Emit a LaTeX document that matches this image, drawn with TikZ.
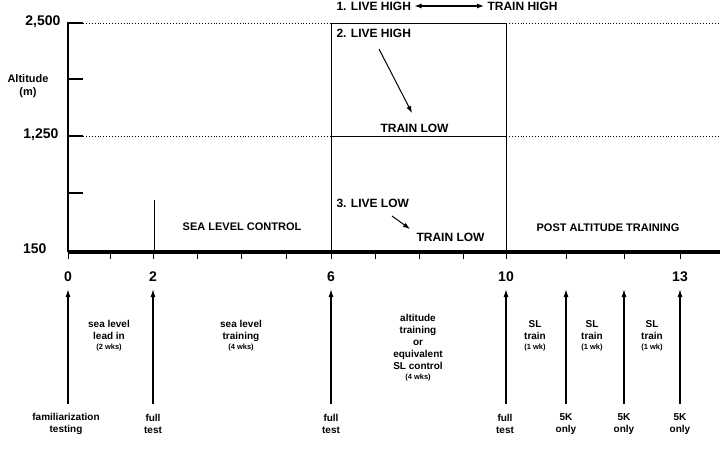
\documentclass[tikz,border=0pt]{standalone}
\usepackage{fontspec}
\setmainfont{Liberation Sans}
\usetikzlibrary{positioning,arrows.meta}
\newcommand{\wks}{\fontsize{7.5}{8}\selectfont}

\begin{document}
\begin{tikzpicture}[
    x=1pt, y=-1pt,
    big/.style={font=\bfseries\fontsize{14}{14}\selectfont},
    zone/.style={font=\bfseries\fontsize{11}{11}\selectfont},
    phase/.style={font=\bfseries\fontsize{12}{12}\selectfont, anchor=west},
    note/.style={font=\bfseries\fontsize{10}{12}\selectfont, align=center},
    dots/.style={dotted, line width=0.9pt},
    arrow/.style={-{Latex[length=8pt,width=5pt]}, line width=1.3pt},
    small/.style={-{Latex[length=7pt,width=5pt]}, line width=1pt}
]
\useasboundingbox (0,0) rectangle (720,466);

% Altitude axis
\draw[line width=1.2pt] (68,22) -- (68,252);
\foreach \y in {23,79,136,193} \draw[line width=1.2pt] (68,\y) -- (83,\y);
\node[big, anchor=east] (h2500) at (64,22) {2,500};
\node[big, anchor=east] (h1250) at (62,135) {1,250};
\node[big, anchor=east] (h150) at (50,249) {150};
\node[note, font=\bfseries\fontsize{11}{13}\selectfont] (alt) at (28,86) {Altitude\\(m)};

% Time axis
\draw[line width=4pt] (68,252) -- (720,252);
\foreach \x in {68,110,153,197,241,286,331,375,419,463,506,566,624,680}
  \draw[line width=1pt] (\x,252) -- (\x,259);
\draw[line width=1pt] (154,200) -- (154,252);

% Altitude levels
\draw[dots] (83,23) -- (331,23);
\draw[dots] (506,23) -- (720,23);
\draw[dots] (83,136) -- (331,136);
\draw[dots] (506,136) -- (720,136);
\draw[line width=1pt] (331,252) -- (331,23) -- (506,23) -- (506,252);
\draw[line width=1pt] (331,136) -- (506,136);

% Training groups
\node[phase] (lh1) at (333,6) {1. LIVE HIGH};
\node[phase] (th1) at (484,6) {TRAIN HIGH};
\draw[{Latex[length=7pt,width=5pt]}-{Latex[length=7pt,width=5pt]}, line width=1.2pt] (lh1.east) -- (th1.west);
\node[phase] (lh2) at (333,33) {2. LIVE HIGH};
\node[phase] (tl2) at (377,128) {TRAIN LOW};
\draw[small] (379,49) -- (412,113);
\node[phase] (ll3) at (333,203) {3. LIVE LOW};
\node[phase] (tl3) at (413,237) {TRAIN LOW};
\draw[small] (392,216) -- (410,229);
\node[zone] (slc) at (242,227) {SEA LEVEL CONTROL};
\node[zone] (pat) at (608,228) {POST ALTITUDE TRAINING};

% Week numbers and tests
\foreach \x/\w/\name in {68/0/w0,153/2/w2,331/6/w6,506/10/w10,680/13/w13}
  \node[big] (\name) at (\x,277) {\w};
\foreach \x/\name in {68/a,153/b,331/c,506/d,566/e,624/f,680/g} {
  \coordinate (\name top) at (\x,289);
  \coordinate (\name bot) at (\x,404);
  \draw[arrow] (\name bot) -- (\name top);
}
\node[note] (fam) at (66,424) {familiarization\\testing};
\node[note] (ft1) at (153,424) {full\\test};
\node[note] (ft2) at (331,424) {full\\test};
\node[note] (ft3) at (505,424) {full\\test};
\node[note] (fk1) at (566,424) {5K\\only};
\node[note] (fk2) at (624,424) {5K\\only};
\node[note] (fk3) at (680,424) {5K\\only};

% Periods
\node[note] (lead) at (109,336) {sea level\\lead in\\[-2pt]{\wks (2 wks)}};
\node[note] (slt) at (241,336) {sea level\\training\\[-2pt]{\wks (4 wks)}};
\node[note] (altt) at (418,348) {altitude\\training\\or\\equivalent\\SL control\\[-2pt]{\wks (4 wks)}};
\node[note] (sl1) at (535,336) {SL\\train\\[-2pt]{\wks (1 wk)}};
\node[note] (sl2) at (592,336) {SL\\train\\[-2pt]{\wks (1 wk)}};
\node[note] (sl3) at (652,336) {SL\\train\\[-2pt]{\wks (1 wk)}};
\end{tikzpicture}
\end{document}
